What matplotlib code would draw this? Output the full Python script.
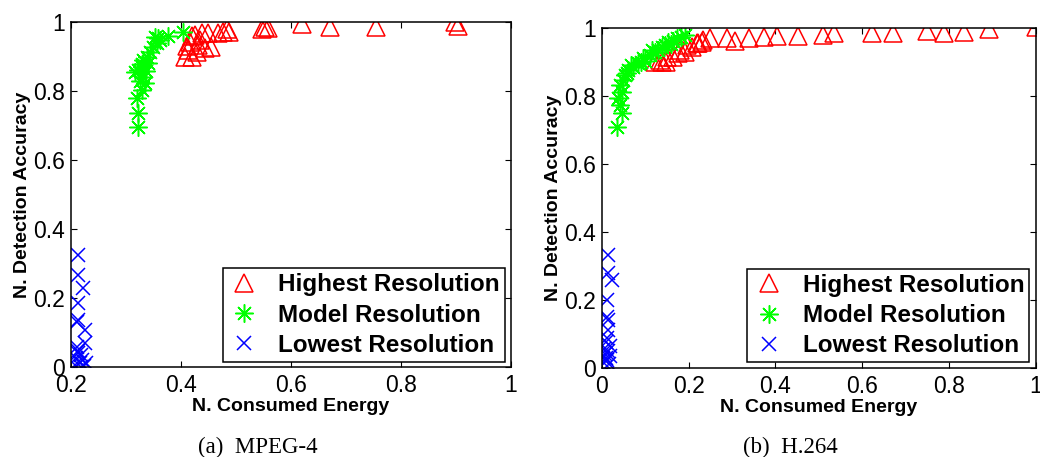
import matplotlib
matplotlib.use('Agg')
import matplotlib.pyplot as plt

plt.rcParams['font.family'] = ['Liberation Sans', 'DejaVu Sans']

# ---- (a) MPEG-4 ----
mpeg_high_x = [0.408, 0.420, 0.414, 0.429, 0.444, 0.456, 0.417, 0.435, 0.426, 0.420,
               0.438, 0.450, 0.468, 0.477, 0.487, 0.484, 0.548, 0.553, 0.558, 0.620,
               0.671, 0.755, 0.899, 0.905, 0.412, 0.432]
mpeg_high_y = [0.900, 0.900, 0.919, 0.915, 0.924, 0.929, 0.944, 0.948, 0.963, 0.960,
               0.968, 0.968, 0.968, 0.973, 0.973, 0.982, 0.982, 0.987, 0.983, 0.994,
               0.987, 0.987, 1.000, 0.990, 0.930, 0.935]
mpeg_model_x = [0.322, 0.323, 0.320, 0.329, 0.335, 0.332, 0.323, 0.329, 0.341, 0.332,
                0.338, 0.344, 0.350, 0.356, 0.359, 0.353, 0.363, 0.377, 0.405, 0.317,
                0.326, 0.336, 0.330]
mpeg_model_y = [0.695, 0.738, 0.779, 0.803, 0.823, 0.842, 0.861, 0.870, 0.881, 0.890,
                0.900, 0.915, 0.929, 0.939, 0.953, 0.958, 0.950, 0.960, 0.973, 0.856,
                0.830, 0.860, 0.880]
mpeg_low_x = [0.214, 0.214, 0.222, 0.214, 0.214, 0.211, 0.226, 0.226, 0.211, 0.214,
              0.218, 0.210, 0.220, 0.216, 0.228, 0.208, 0.224, 0.218, 0.213]
mpeg_low_y = [0.324, 0.266, 0.228, 0.184, 0.136, 0.130, 0.107, 0.068, 0.058, 0.045,
              0.035, 0.025, 0.020, 0.010, 0.012, 0.005, 0.003, 0.000, 0.040]

# ---- (b) H.264 ----
h264_high_x = [0.123, 0.138, 0.149, 0.165, 0.176, 0.192, 0.207, 0.222, 0.234, 0.249,
               0.134, 0.150, 0.180, 0.196, 0.219, 0.230, 0.289, 0.307, 0.338, 0.374,
               0.403, 0.453, 0.510, 0.535, 0.622, 0.670, 0.750, 0.787, 0.835, 0.892,
               1.000]
h264_high_y = [0.902, 0.902, 0.900, 0.916, 0.926, 0.931, 0.946, 0.956, 0.966, 0.970,
               0.907, 0.916, 0.936, 0.950, 0.956, 0.960, 0.970, 0.963, 0.970, 0.975,
               0.977, 0.977, 0.980, 0.987, 0.985, 0.985, 0.993, 0.987, 0.990, 0.997,
               1.003]
h264_model_x = [0.035, 0.046, 0.042, 0.038, 0.046, 0.042, 0.050, 0.054, 0.061, 0.073,
                0.084, 0.096, 0.111, 0.123, 0.138, 0.153, 0.173, 0.192, 0.058, 0.100,
                0.130, 0.160, 0.182, 0.068, 0.090, 0.115, 0.145, 0.165]
h264_model_y = [0.710, 0.750, 0.774, 0.794, 0.813, 0.833, 0.848, 0.862, 0.877, 0.887,
                0.897, 0.912, 0.921, 0.931, 0.946, 0.961, 0.970, 0.980, 0.868, 0.905,
                0.935, 0.955, 0.975, 0.892, 0.900, 0.935, 0.950, 0.962]
h264_low_x = [0.015, 0.015, 0.023, 0.012, 0.012, 0.015, 0.015, 0.012, 0.010, 0.018,
              0.005, 0.014, 0.008, 0.020, 0.003, 0.012, 0.006, 0.016, 0.010]
h264_low_y = [0.332, 0.278, 0.258, 0.200, 0.150, 0.140, 0.111, 0.087, 0.075, 0.065,
              0.055, 0.048, 0.040, 0.035, 0.028, 0.022, 0.015, 0.010, 0.030]

labels = ['Highest Resolution', 'Model Resolution', 'Lowest Resolution']
captions = ['(a)  MPEG-4', '(b)  H.264']

fig = plt.figure(figsize=(10.4, 4.57), dpi=100)
ax_a = fig.add_axes([0.068, 0.1976, 0.423, 0.7536])
ax_b = fig.add_axes([0.5786, 0.1954, 0.4176, 0.7427])


def draw_panel(ax, hx, hy, mx, my, lx, ly, xlim, xticks, legend_anchor):
    ax.plot(hx, hy, linestyle='none', marker='^', ms=13.5, mfc='none', mec='#ff0000', mew=1.1,
            label=labels[0])
    ax.plot(mx, my, linestyle='none', marker=(8, 2, 0), ms=13, mec='#00ff00', mew=1.1,
            label=labels[1])
    ax.plot(lx, ly, linestyle='none', marker='x', ms=9.5, mec='#0000ff', mew=1.1,
            label=labels[2])
    ax.set_xlim(*xlim)
    ax.set_ylim(0, 1)
    ax.set_xticks(xticks)
    ax.set_xticklabels(['%g' % t for t in xticks])
    ax.set_yticks([0, 0.2, 0.4, 0.6, 0.8, 1])
    ax.set_yticklabels(['0', '0.2', '0.4', '0.6', '0.8', '1'])
    ax.tick_params(direction='in', top=True, right=True, length=4, width=0.8,
                   labelsize=16.5, pad=4)
    ax.tick_params(axis='x', pad=5)
    for sp in ax.spines.values():
        sp.set_linewidth(1.1)
    ax.set_xlabel('N. Consumed Energy', fontsize=14, fontweight='bold', labelpad=1)
    ax.set_ylabel('N. Detection Accuracy', fontsize=14, fontweight='bold', labelpad=2)
    leg = ax.legend(loc='lower right', bbox_to_anchor=legend_anchor, borderaxespad=0,
                    numpoints=1, fancybox=False, edgecolor='black', framealpha=1,
                    prop={'weight': 'bold', 'size': 17.5}, labelspacing=0.3,
                    borderpad=0.2, handlelength=1.4, handletextpad=0.7)
    leg.get_frame().set_linewidth(1.1)


draw_panel(ax_a, mpeg_high_x, mpeg_high_y, mpeg_model_x, mpeg_model_y,
           mpeg_low_x, mpeg_low_y, (0.2, 1), [0.2, 0.4, 0.6, 0.8, 1], (0.987, 0.0145))
draw_panel(ax_b, h264_high_x, h264_high_y, h264_model_x, h264_model_y,
           h264_low_x, h264_low_y, (0, 1), [0, 0.2, 0.4, 0.6, 0.8, 1], (0.984, 0.016))

fig.text(258 / 1040, 1 - 447 / 457, captions[0], ha='center', va='center',
         family='Liberation Serif', fontsize=16.5)
fig.text(790 / 1040, 1 - 447 / 457, captions[1], ha='center', va='center',
         family='Liberation Serif', fontsize=16.5)

fig.savefig('out.png', dpi=100)
